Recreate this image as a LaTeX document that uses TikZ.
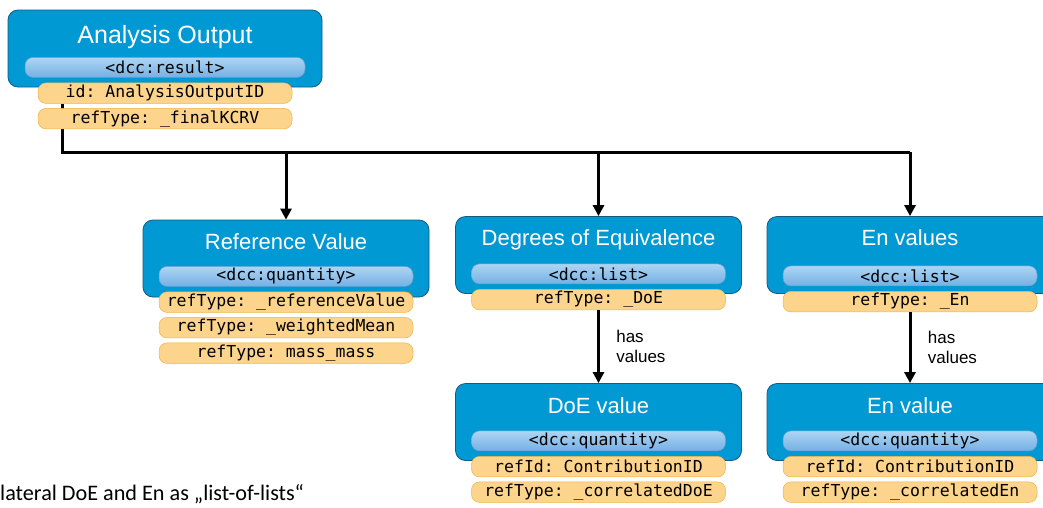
\documentclass[tikz,border=0pt]{standalone}
\usepackage{fontspec}
\setmainfont{Liberation Sans}
\newfontfamily\codefont{DejaVu Sans Mono}
\newfontfamily\notefont{Carlito}
\usetikzlibrary{positioning,arrows.meta,backgrounds}
\definecolor{dccblue}{RGB}{0,153,212}
\definecolor{dccborder}{RGB}{22,90,130}
\definecolor{tagtop}{RGB}{174,213,243}
\definecolor{tagbottom}{RGB}{116,176,228}
\definecolor{tagborder}{RGB}{98,158,210}
\definecolor{attrfill}{RGB}{253,212,140}
\definecolor{attrborder}{RGB}{240,178,70}
\frenchspacing

\begin{document}
\begin{tikzpicture}[
  x=1pt, y=-1pt,
  dccbox/.style={draw=dccborder,line width=0.8pt,fill=dccblue,rounded corners=10pt,
    minimum width=286pt,minimum height=77pt,inner sep=0pt},
  boxtitle/.style={text=white,font=\fontsize{22}{26}\selectfont,anchor=base},
  pill/.style={rounded corners=8pt,minimum width=254pt,minimum height=20pt,inner sep=0pt,
    line width=0.5pt,font=\codefont\fontsize{16.5}{18}\selectfont},
  dcctag/.style={pill,draw=tagborder,top color=tagtop,bottom color=tagbottom},
  dccattr/.style={pill,draw=attrborder,fill=attrfill,minimum height=20.5pt},
  link/.style={line width=3pt,black},
  haslink/.style={link,-{Triangle[length=11pt,width=11pt]}},
  hasnote/.style={midway,right=13pt,align=left,font=\fontsize{17}{20}\selectfont}
]
\clip (0,0) rectangle (1043,507);

% analysis output
\node[dccbox,minimum width=314pt] (ao) at (165,48.5) {};
\node[boxtitle,font=\fontsize{25}{30}\selectfont] (ao-title) at ([yshift=-34pt]ao.north) {Analysis Output};
\node[dcctag,minimum width=280pt] (ao-tag) at ([yshift=20pt]ao.south) {<dcc:result>};
\node[dccattr,below=5pt of ao-tag] (ao-id) {id: AnalysisOutputID};
\node[dccattr,below=4.5pt of ao-id] (ao-ref) {refType: \_finalKCRV};

% reference value
\node[dccbox] (rv) at (286,258.5) {};
\node[boxtitle] (rv-title) at ([yshift=-30pt]rv.north) {Reference Value};
\node[dcctag] (rv-tag) at ([yshift=21pt]rv.south) {<dcc:quantity>};
\node[dccattr,below=5pt of rv-tag] (rv-ref1) {refType: \_referenceValue};
\node[dccattr,below=4.5pt of rv-ref1] (rv-ref2) {refType: \_weightedMean};
\node[dccattr,below=4.5pt of rv-ref2] (rv-ref3) {refType: mass\_mass};

% degrees of equivalence
\node[dccbox] (doe) at (598.5,255) {};
\node[boxtitle] (doe-title) at ([yshift=-29pt]doe.north) {Degrees of Equivalence};
\node[dcctag] (doe-tag) at ([yshift=20pt]doe.south) {<dcc:list>};
\node[dccattr,below=5pt of doe-tag] (doe-ref) {refType: \_DoE};

\node[dccbox] (doev) at (598.5,422) {};
\node[boxtitle] (doev-title) at ([yshift=-30pt]doev.north) {DoE value};
\node[dcctag] (doev-tag) at ([yshift=20pt]doev.south) {<dcc:quantity>};
\node[dccattr,below=5pt of doev-tag] (doev-id) {refId: ContributionID};
\node[dccattr,below=4.5pt of doev-id] (doev-ref) {refType: \_correlatedDoE};

% En values
\node[dccbox] (en) at (910,255) {};
\node[boxtitle] (en-title) at ([yshift=-29pt]en.north) {En values};
\node[dcctag] (en-tag) at ([yshift=18pt]en.south) {<dcc:list>};
\node[dccattr,below=5pt of en-tag] (en-ref) {refType: \_En};

\node[dccbox] (env) at (910,422) {};
\node[boxtitle] (env-title) at ([yshift=-30pt]env.north) {En value};
\node[dcctag] (env-tag) at ([yshift=20pt]env.south) {<dcc:quantity>};
\node[dccattr,below=5pt of env-tag] (env-id) {refId: ContributionID};
\node[dccattr,below=4.5pt of env-id] (env-ref) {refType: \_correlatedEn};

\node[font=\notefont\fontsize{22.2}{26}\selectfont,anchor=base west,inner sep=0pt] (note) at (0,500)
  {lateral DoE and En as „list-of-lists“};

% connectors
\begin{pgfonlayer}{background}
\coordinate (rail) at (62,152);
\draw[link] (ao-id.south -| rail) -- (rail) -- (rail -| en.north);
\foreach \n in {rv,doe,en}
  \draw[haslink] (rail -| \n.north) -- (\n.north);
\end{pgfonlayer}
\draw[haslink] (doe-ref.south) -- node[hasnote] {has\\values} (doev.north);
\draw[haslink] (en-ref.south) -- node[hasnote] {has\\values} (env.north);
\end{tikzpicture}
\end{document}
